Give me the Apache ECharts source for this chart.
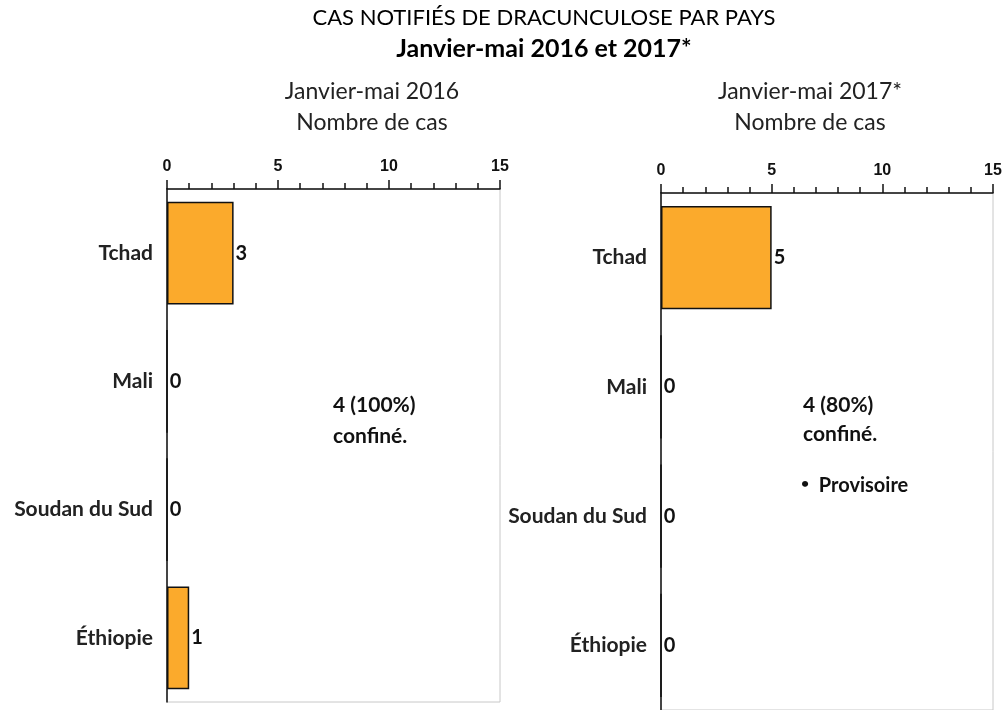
<!DOCTYPE html>
<html>
<head>
<meta charset="utf-8">
<script src="https://cdn.jsdelivr.net/npm/echarts@6/dist/echarts.min.js"></script>
<style>
    html, body { margin: 0; padding: 0; background: #fff; }
    #main { width: 1008px; height: 710px; }
</style>
</head>
<body>
<div id="main"></div>
<script>
// données
var pays = ['Tchad', 'Mali', 'Soudan du Sud', 'Éthiopie'];
var cas2016 = [3, 0, 0, 1];
var cas2017 = [5, 0, 0, 0];
var axeMin = 0;
var axeMax = 15;
var axePas = 5;

var textFont = 'Lato';
var numFont = 'Liberation Sans';
var barColor = '#FBAA2C';

function makeXAxis(gridIndex) {
    return {
        type: 'value',
        gridIndex: gridIndex,
        position: 'top',
        min: axeMin,
        max: axeMax,
        interval: axePas,
        axisLine: {show: true, lineStyle: {color: '#111', width: 1.5}},
        axisTick: {show: true, length: 9, lineStyle: {color: '#111', width: 1.5}},
        minorTick: {show: true, splitNumber: 5, length: 6, lineStyle: {color: '#111', width: 1.5}},
        splitLine: {show: false},
        axisLabel: {
            margin: 14,
            color: '#111',
            fontFamily: numFont,
            fontWeight: 'bold',
            fontSize: 16
        }
    };
}

function makeYAxis(gridIndex) {
    return {
        type: 'category',
        gridIndex: gridIndex,
        inverse: true,
        data: pays,
        axisLine: {show: true, lineStyle: {color: '#111', width: 1.5}},
        axisTick: {show: false},
        axisLabel: {
            margin: 14,
            color: '#222',
            fontFamily: textFont,
            fontWeight: 'bold',
            fontSize: 21
        }
    };
}

function makeSeries(idx, values) {
    return {
        type: 'bar',
        xAxisIndex: idx,
        yAxisIndex: idx,
        data: values,
        barCategoryGap: '20%',
        itemStyle: {color: barColor, borderColor: '#111', borderWidth: 1.5},
        label: {
            show: true,
            position: 'right',
            distance: 2,
            color: '#111',
            fontFamily: textFont,
            fontWeight: 'bold',
            fontSize: 20
        },
        silent: true
    };
}

function txt(x, y, s, size, lh) {
    return {
        type: 'text',
        left: x,
        top: y,
        style: {
            text: s,
            fontFamily: textFont,
            fontSize: size,
            fontWeight: 'bold',
            lineHeight: lh,
            fill: '#111'
        }
    };
}

var myChart = echarts.init(document.getElementById('main'));
var option = {
    backgroundColor: '#fff',
    animation: false,
    title: [
        {text: 'CAS NOTIFIÉS DE DRACUNCULOSE PAR PAYS', left: 544, top: 7, textAlign: 'center', padding: 0,
            textStyle: {fontFamily: textFont, fontSize: 22, fontWeight: 'normal', color: '#000'}},
        {text: 'Janvier-mai 2016 et 2017*', left: 544, top: 36, textAlign: 'center', padding: 0,
            textStyle: {fontFamily: textFont, fontSize: 25, fontWeight: 'bold', color: '#000'}},
        {text: 'Janvier-mai 2016\nNombre de cas', left: 372, top: 76, textAlign: 'center', padding: 0,
            textStyle: {fontFamily: textFont, fontSize: 23, fontWeight: 'normal', color: '#222', lineHeight: 31}},
        {text: 'Janvier-mai 2017*\nNombre de cas', left: 810, top: 76, textAlign: 'center', padding: 0,
            textStyle: {fontFamily: textFont, fontSize: 23, fontWeight: 'normal', color: '#222', lineHeight: 31}}
    ],
    grid: [
        {left: 167, top: 189, width: 333, height: 513, show: true, borderColor: '#c8c8c8', borderWidth: 1},
        {left: 661, top: 193, width: 332, height: 520, show: true, borderColor: '#c8c8c8', borderWidth: 1}
    ],
    xAxis: [makeXAxis(0), makeXAxis(1)],
    yAxis: [makeYAxis(0), makeYAxis(1)],
    series: [makeSeries(0, cas2016), makeSeries(1, cas2017)],
    graphic: [
        txt(333, 390, '4 (100%)\nconfiné.', 21, 31),
        txt(803, 391, '4 (80%)\nconfiné.', 21, 29),
        {
            type: 'text',
            left: 801,
            top: 476,
            style: {
                text: '{b|•}  Provisoire',
                fontFamily: textFont,
                fontSize: 20,
                fontWeight: 'bold',
                fill: '#111',
                rich: {
                    b: {fontFamily: textFont, fontSize: 14, fontWeight: 'bold', fill: '#111', verticalAlign: 'top', padding: [0, 0, 6, 0]}
                }
            }
        }
    ]
};
myChart.setOption(option);
</script>
</body>
</html>
